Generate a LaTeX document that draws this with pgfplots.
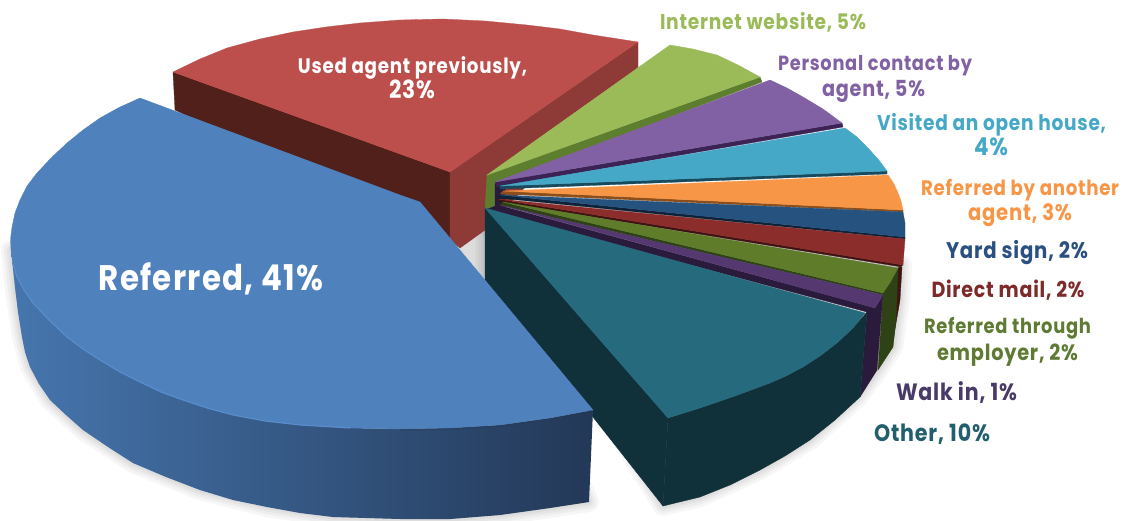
\documentclass[border=0pt]{standalone}
\usepackage{graphicx}
\usepackage{fontspec}
\setmainfont{Poppins}[BoldFeatures={LetterSpace=4}]
\usepackage{pgfplots}
\pgfplotsset{compat=1.18}
\definecolor{bluetop}{HTML}{4F81BD}
\definecolor{bL}{HTML}{4676AE}
\definecolor{bR}{HTML}{233857}
\definecolor{rim}{HTML}{5A90D0}
\definecolor{redtop}{HTML}{BC4E4B}
\definecolor{redL}{HTML}{52201A}
\definecolor{redR}{HTML}{8E3A36}
\definecolor{gtop}{HTML}{9BBB59}
\definecolor{gside}{HTML}{5E7E2F}
\definecolor{ptop}{HTML}{8161A3}
\definecolor{pside}{HTML}{3B2355}
\definecolor{vtop}{HTML}{46A8C7}
\definecolor{vside}{HTML}{164A5C}
\definecolor{otop}{HTML}{F79646}
\definecolor{oside}{HTML}{8A4F1C}
\definecolor{ntop}{HTML}{26527F}
\definecolor{nside}{HTML}{0F2338}
\definecolor{rtop}{HTML}{8A2D2B}
\definecolor{rside}{HTML}{3E1412}
\definecolor{oltop}{HTML}{5F7C2B}
\definecolor{olside}{HTML}{2F4216}
\definecolor{wtop}{HTML}{54386F}
\definecolor{wside}{HTML}{2A1A3C}
\definecolor{ttop}{HTML}{256A7D}
\definecolor{twall}{HTML}{11313A}
\definecolor{cyard}{HTML}{2A5082}
\definecolor{cdirect}{HTML}{7E2A2A}
\definecolor{cthrough}{HTML}{5F7B33}
\definecolor{cwalk}{HTML}{4A3A6A}
\definecolor{cother}{HTML}{215F6E}
\newcommand{\poly}[2]{\addplot[fill=#1,draw=#1,line width=0.3pt] coordinates {#2} -- cycle;}
\newcommand{\shad}[2]{\addplot[fill=black,draw=black,opacity=0.035,line width=#1,line join=round] coordinates {#2} -- cycle;}
\newcommand{\shadA}[1]{\shad{#1}{(11,250)(15,290)(22,337)(30,367)(50,400)(83,430)(133,463)(200,490)(267,507)(333,517)(400,519)(450,519)(500,515)(550,508)(589,502)(500,300)(485,280)(485,220)}}
\newcommand{\shadB}[1]{\shad{#1}{(485,220)(663,506)(700,497)(760,470)(810,440)(858,397)(878,370)(893,347)(900,300)(902,265)(700,220)}}
\newcommand{\lab}[5]{\node[text=#4,inner sep=0pt,anchor=center] at (axis cs:#1,#2+3) {\scalebox{1}[1.15]{\resizebox{#3pt}{!}{\bfseries\strut #5}}};}
\begin{document}
\begin{tikzpicture}
\begin{axis}[hide axis,scale only axis,width=1132pt,height=520pt,
  xmin=0,xmax=1132,ymin=0,ymax=520,y dir=reverse,clip=true]
\path (axis cs:0,0) rectangle (axis cs:1132,520);
% shadows
\shadA{20pt}\shadA{14pt}\shadA{9pt}\shadA{5pt}
\shadB{20pt}\shadB{14pt}\shadB{9pt}\shadB{5pt}
% red slice
\poly{redL}{(173,72)(450,172)(450,240)(175,110)}
\poly{redR}{(450,172)(638,42)(638,67)(485,230)(460,248)(450,240)}
\poly{redtop}{(173,72)(200,59)(227,48)(260,39)(293,32)(326,27)(360,23)(400,20)(443,19)(485,21)(527,25)(560,29)(593,35)(638,42)(450,172)}
% fan sides / hub
\poly{gside}{(487,175)(760,77)(762,82)(495,184)(495,208)(485,208)}
\poly{wside}{(495,184)(505,188)(505,203)(498,208)(495,208)}
% internet
\poly{gtop}{(487,175)(670,45)(693,49)(717,55)(738,65)(760,77)}
% personal
\poly{pside}{(495,182)(842,123)(843,127)(497,187)}
\poly{ptop}{(495,182)(770,80)(787,88)(803,97)(823,109)(842,123)}
% visited
\poly{vside}{(500,186)(887,171)(887,174)(500,189)}
\poly{vtop}{(500,186)(845,128)(857,137)(867,147)(878,159)(887,171)}
% orange
\poly{oside}{(503,191)(903,210)(903,212)(500,194)}
\poly{otop}{(503,191)(888,175)(894,184)(898,193)(901,201)(903,210)}
% navy
\poly{nside}{(500,195)(905,237)(905,239)(498,198)}
\poly{ntop}{(500,195)(903,212)(905,223)(905,237)}
% direct mail
\poly{rside}{(498,199)(903,265)(898,268)(893,340)(900,300)(902,267)(500,202)}
\poly{rtop}{(498,199)(905,239)(904,252)(903,265)}
% through employer
\poly{olside}{(503,202)(883,293)(898,268)(896,320)(893,347)(878,370)(883,295)(500,205)}
\poly{oltop}{(503,202)(898,268)(891,281)(883,293)}
% walk in
\poly{wside}{(498,205)(875,308)(883,295)(877,370)(860,397)(867,312)(485,210)}
\poly{wtop}{(500,205)(883,295)(875,308)}
% other
\poly{twall}{(485,208)(485,280)(663,506)(668,418)}
\poly{twall}{(668,418)(700,408)(735,396)(770,383)(786,376)(803,367)(820,356)(837,343)(853,328)(867,312)(860,397)(835,420)(810,440)(785,456)(760,470)(730,485)(700,497)(663,506)}
\poly{ttop}{(485,208)(865,313)(853,328)(837,343)(820,356)(803,367)(786,376)(770,383)(735,396)(700,408)(668,418)}
% referred: side, one smooth gradient
\addplot[draw=none,left color=bL,right color=bR] coordinates {(11,250)(13,264)(17,277)(24,290)(33,303)(49,320)(67,337)(83,349)(100,360)(120,372)(140,382)(161,392)(183,400)(207,408)(233,415)(265,421)(300,425)(350,428)(400,429)(450,428)(500,425)(550,418)(593,410)(589,502)(550,508)(500,515)(450,519)(400,519)(333,517)(300,513)(267,507)(233,500)(200,490)(166,477)(133,463)(108,447)(83,430)(66,415)(50,400)(39,384)(30,367)(25,352)(22,337)(18,312)(15,287)} -- cycle;
% referred: top
\poly{bluetop}{(140,98)(400,195)(420,202)(593,410)(550,418)(500,425)(450,428)(400,429)(350,428)(300,425)(265,421)(233,415)(207,408)(183,400)(161,392)(140,382)(120,372)(100,360)(83,349)(67,337)(49,320)(33,303)(24,290)(17,277)(13,264)(11,250)(10.5,239)(12,227)(15,213)(20,200)(27,186)(37,173)(51,158)(67,143)(83,130)(100,118)(119,107.5)}
\addplot[rim,line width=1.2pt,opacity=0.8] coordinates {(13,264)(17,277)(24,290)(33,303)(49,320)(67,337)(83,349)(100,360)(120,372)(140,382)(161,392)(183,400)(207,408)(233,415)(265,421)(300,425)(350,428)};
\addplot[bR,line width=2pt,opacity=0.3] coordinates {(400,430)(450,429)(500,426)(550,419)(592,411)};
% labels
\lab{211}{279}{224}{white}{Referred, 41\%}
\lab{412.5}{65}{229}{white}{Used agent previously,}
\lab{412}{90}{46}{white}{23\%}
\lab{763}{21}{206}{gtop}{Internet website, 5\%}
\lab{875}{63}{194}{ptop}{Personal contact by}
\lab{873.5}{88}{103}{ptop}{agent, 5\%}
\lab{991.5}{122}{229}{vtop}{Visited an open house,}
\lab{991}{147}{34}{vtop}{4\%}
\lab{1020}{187}{198}{otop}{Referred by another}
\lab{1020}{212}{104}{otop}{agent, 3\%}
\lab{1017}{250}{142}{cyard}{Yard sign, 2\%}
\lab{1008}{289}{153}{cdirect}{Direct mail, 2\%}
\lab{1007.5}{326}{167}{cthrough}{Referred through}
\lab{1007.5}{352}{141}{cthrough}{employer, 2\%}
\lab{956.5}{392}{121}{cwalk}{Walk in, 1\%}
\lab{932}{433}{116}{cother}{Other, 10\%}
\end{axis}
\end{tikzpicture}
\end{document}
